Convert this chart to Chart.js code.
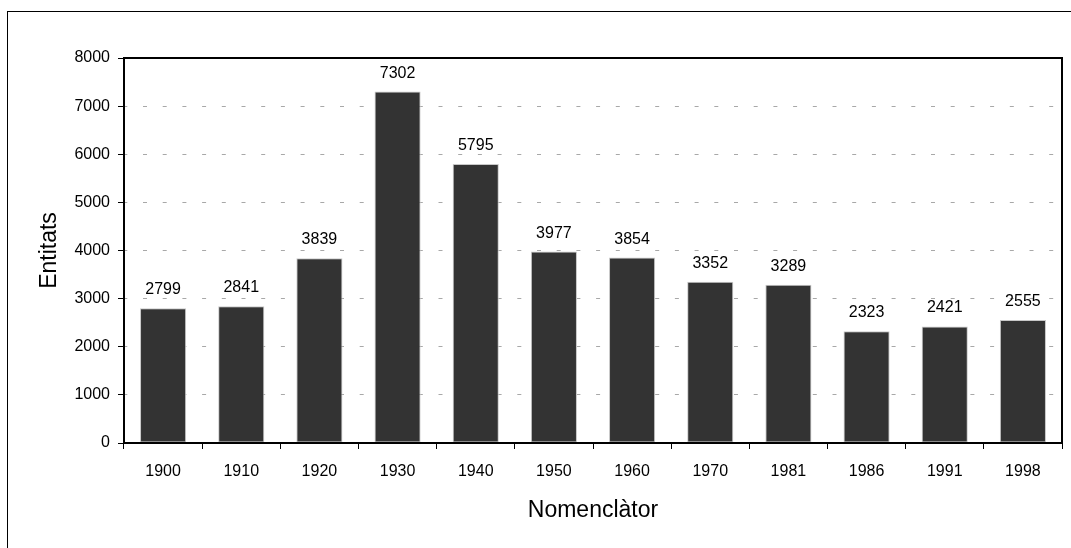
<!DOCTYPE html>
<html>
<head>
<meta charset="utf-8">
<script src="https://cdn.jsdelivr.net/npm/chart.js@4/dist/chart.umd.min.js"></script>
<style>
  html, body { margin: 0; padding: 0; background: #fff; }
  #wrap { width: 1071px; height: 548px; }
</style>
</head>
<body>
<div id="wrap"><canvas id="myChart" width="1071" height="548"></canvas></div>
<script>
const years = ["1900", "1910", "1920", "1930", "1940", "1950", "1960", "1970", "1981", "1986", "1991", "1998"];
const entitats = [2799, 2841, 3839, 7302, 5795, 3977, 3854, 3352, 3289, 2323, 2421, 2555];
const yTicks = [0, 1000, 2000, 3000, 4000, 5000, 6000, 7000, 8000];

const fontFamily = "'Liberation Sans', Arial, sans-serif";

// frame round the page and the plot, plus value labels on top of the bars
const decorations = {
  id: "decorations",
  beforeDraw(chart) {
    const ctx = chart.ctx;
    ctx.save();
    ctx.fillStyle = "#fff";
    ctx.fillRect(0, 0, chart.width, chart.height);
    ctx.strokeStyle = "#000";
    ctx.lineWidth = 1;
    ctx.strokeRect(7.5, 11.5, 1200, 700);
    ctx.restore();
  },
  afterDatasetsDraw(chart) {
    const ctx = chart.ctx;
    const area = chart.chartArea;
    ctx.save();
    ctx.strokeStyle = "#000";
    ctx.lineWidth = 2;
    ctx.strokeRect(area.left, area.top, area.right - area.left, area.bottom - area.top);

    ctx.fillStyle = "#000";
    ctx.font = "16px " + fontFamily;
    ctx.textAlign = "center";
    ctx.textBaseline = "alphabetic";
    chart.getDatasetMeta(0).data.forEach((bar, i) => {
      ctx.fillText(String(entitats[i]), bar.x, bar.y - 14);
    });
    ctx.restore();
  },
};

new Chart(document.getElementById("myChart"), {
  type: "bar",
  data: {
    labels: years,
    datasets: [
      {
        data: entitats,
        backgroundColor: "#333333",
        borderColor: "#c8c8c8",
        borderWidth: 1,
        borderSkipped: false,
        categoryPercentage: 1,
        barPercentage: 0.59,
      },
    ],
  },
  options: {
    responsive: false,
    animation: false,
    layout: { padding: { left: 0, top: 58, right: 9, bottom: 0 } },
    plugins: {
      legend: { display: false },
      tooltip: { enabled: false },
    },
    scales: {
      x: {
        afterFit: (scale) => { scale.height = 105; },
        grid: {
          offset: true,
          drawOnChartArea: false,
          tickLength: 6,
          tickColor: "#000",
          tickWidth: 1,
        },
        border: { display: false },
        ticks: {
          color: "#000",
          padding: 13,
          font: { family: fontFamily, size: 16 },
        },
        title: {
          display: true,
          text: "Nomenclàtor",
          color: "#000",
          padding: { top: 0, bottom: 24 },
          font: { family: fontFamily, size: 23 },
        },
      },
      y: {
        min: 0,
        max: 8000,
        afterFit: (scale) => { scale.width = 124; },
        afterBuildTicks: (scale) => {
          scale.ticks = yTicks.map((v) => ({ value: v }));
        },
        grid: {
          color: (c) => (c.tick && (c.tick.value === 0 || c.tick.value === 8000) ? "rgba(0,0,0,0)" : "#a8a8a8"),
          lineWidth: 1,
          tickLength: 6,
          tickColor: "#000",
          tickWidth: 1,
        },
        border: { display: false, dash: [4, 15.7], dashOffset: 0.7 },
        ticks: {
          color: "#000",
          padding: 8,
          font: { family: fontFamily, size: 16 },
          callback: (v) => String(v),
        },
        title: {
          display: true,
          text: "Entitats",
          color: "#000",
          padding: { top: 36, bottom: 0 },
          font: { family: fontFamily, size: 23 },
        },
      },
    },
  },
  plugins: [decorations],
});
</script>
</body>
</html>
